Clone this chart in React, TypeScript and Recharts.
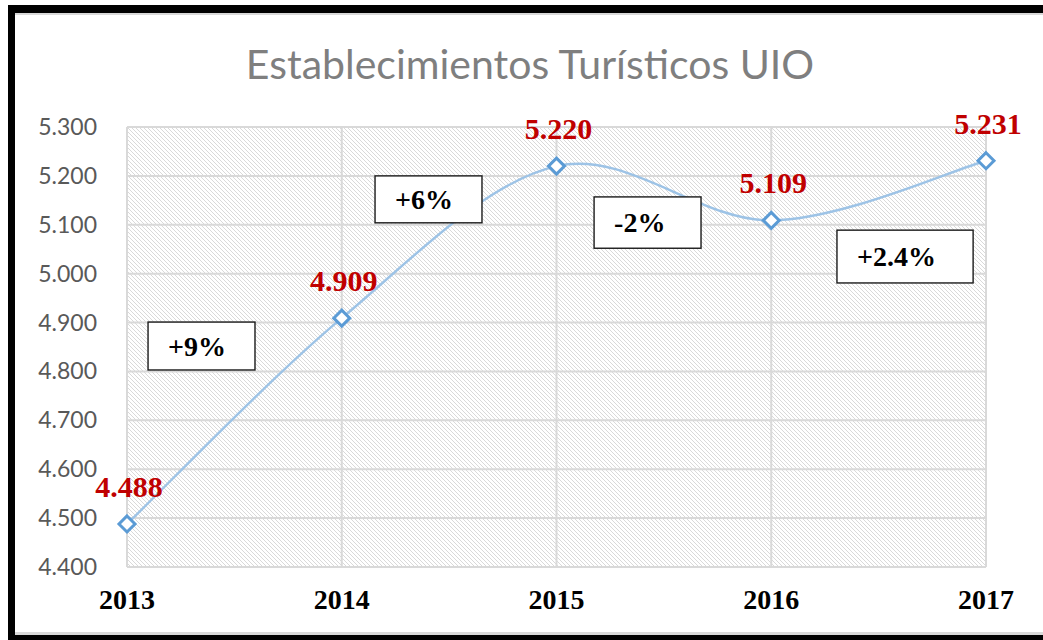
import React from 'react';
import { LineChart, Line, XAxis, YAxis, CartesianGrid, ReferenceArea, LabelList } from 'recharts';

const years = [2013, 2014, 2015, 2016, 2017];
const establishments = [4488, 4909, 5220, 5109, 5231];
const yTicks = [4400, 4500, 4600, 4700, 4800, 4900, 5000, 5100, 5200, 5300];
const changeLabels = ['+9%', '+6%', '-2%', '+2.4%'];

// where the growth boxes sit, in axis units
const boxes = [
  { x1: 2013.098, x2: 2013.596, y1: 4803, y2: 4901 },
  { x1: 2014.155, x2: 2014.653, y1: 5104, y2: 5200 },
  { x1: 2015.175, x2: 2015.673, y1: 5052, y2: 5157 },
  { x1: 2016.306, x2: 2016.94, y1: 4981, y2: 5089 },
];

const data = years.map((year, i) => ({ year, value: establishments[i] }));

const fmt = (v: number) => (v / 1000).toFixed(3);

// Excel style smoothed line (bezier with 1/6 neighbour tangents)
const excelCurve = (context: any) => {
  let pts: number[][] = [];
  return {
    areaStart() {},
    areaEnd() {},
    lineStart() {
      pts = [];
    },
    point(x: number, y: number) {
      pts.push([+x, +y]);
    },
    lineEnd() {
      if (!pts.length) return;
      context.moveTo(pts[0][0], pts[0][1]);
      for (let i = 0; i < pts.length - 1; i++) {
        const p0 = pts[i - 1] || pts[i];
        const p1 = pts[i];
        const p2 = pts[i + 1];
        const p3 = pts[i + 2] || p2;
        context.bezierCurveTo(
          p1[0] + (p2[0] - p0[0]) / 6,
          p1[1] + (p2[1] - p0[1]) / 6,
          p2[0] - (p3[0] - p1[0]) / 6,
          p2[1] - (p3[1] - p1[1]) / 6,
          p2[0],
          p2[1]
        );
      }
    },
  };
};

const Diamond = (props: any) => {
  const { cx, cy } = props;
  if (cx == null || cy == null) return null;
  const r = 8;
  return (
    <path
      d={`M${cx},${cy - r}L${cx + r},${cy}L${cx},${cy + r}L${cx - r},${cy}Z`}
      fill="#fff"
      stroke="#5b9bd5"
      strokeWidth={3}
    />
  );
};

const ValueLabel = (props: any) => {
  const { x, y, value } = props;
  return (
    <text x={x + 2} y={y - 27} textAnchor="middle" fill="#c00000" fontFamily="'Liberation Serif', serif" fontWeight="bold" fontSize={30}>
      {fmt(value)}
    </text>
  );
};

const YTick = (props: any) => {
  const { x, y, payload } = props;
  return (
    <text x={x} y={y} dy="0.35em" textAnchor="end" fill="#595959" fontFamily="Lato, sans-serif" fontSize={23}>
      {fmt(payload.value)}
    </text>
  );
};

const XTick = (props: any) => {
  const { x, y, payload } = props;
  return (
    <text x={x} y={y + 42} textAnchor="middle" fill="#000" fontFamily="'Liberation Serif', serif" fontWeight="bold" fontSize={28}>
      {payload.value}
    </text>
  );
};

const makeBox = (text: string) => (props: any) => {
  const { x, y, width, height } = props;
  return (
    <g>
      <rect x={x} y={y} width={width} height={height} fill="#fff" stroke="#1a1a1a" strokeWidth={1.4} />
      <text x={x + 20} y={y + height / 2} dy="0.35em" fill="#000" fontFamily="'Liberation Serif', serif" fontWeight="bold" fontSize={28}>
        {text}
      </text>
    </g>
  );
};

export default function App() {
  return (
    <div style={{ position: 'fixed', left: 0, top: 0, width: 1043, height: 640, background: '#fff', overflow: 'hidden' }}>
      <svg width={1043} height={640} style={{ position: 'absolute', left: 0, top: 0 }}>
        <rect x={8} y={5} width={1035} height={8} fill="#000" />
        <rect x={8} y={5} width={7} height={635} fill="#000" />
        <rect x={8} y={635} width={1035} height={5} fill="#000" />
        <rect x={15} y={13} width={1028} height={2} fill="#d9d9d9" />
        <rect x={15} y={632} width={1028} height={3} fill="#d9d9d9" />
        <text x={530} y={79} textAnchor="middle" fill="#7f7f7f" fontFamily="Lato, sans-serif" fontSize={41}>
          Establecimientos Turísticos UIO
        </text>
      </svg>
      <div style={{ position: 'absolute', left: 0, top: 0 }}>
        <LineChart width={1043} height={640} data={data} margin={{ top: 127, right: 57, bottom: 23, left: 27 }}>
          <defs>
            <pattern id="hatch" patternUnits="userSpaceOnUse" width={4} height={4}>
              <rect width={4} height={4} fill="#fff" />
              <path d="M-1,-1L5,5M-1,3L1,5M3,-1L5,1" stroke="#d2d2d2" strokeWidth={0.85} />
            </pattern>
          </defs>
          <CartesianGrid stroke="#d9d9d9" strokeWidth={2} fill="url(#hatch)" fillOpacity={1} />
          <XAxis
            dataKey="year"
            type="number"
            domain={[2013, 2017]}
            ticks={years}
            axisLine={false}
            tickLine={false}
            tickSize={0}
            tickMargin={0}
            height={50}
            tick={<XTick />}
            interval={0}
          />
          <YAxis
            domain={[4400, 5300]}
            ticks={yTicks}
            axisLine={false}
            tickLine={false}
            tickSize={0}
            tickMargin={30}
            width={100}
            tick={<YTick />}
            interval={0}
          />
          <Line
            dataKey="value"
            type={excelCurve as any}
            stroke="#9dc3e6"
            strokeWidth={2.4}
            dot={<Diamond />}
            activeDot={false}
            isAnimationActive={false}
          >
            <LabelList dataKey="value" content={<ValueLabel />} />
          </Line>
          {boxes.map((b, i) => (
            <ReferenceArea
              key={i}
              x1={b.x1}
              x2={b.x2}
              y1={b.y1}
              y2={b.y2}
              shape={makeBox(changeLabels[i])}
              zIndex={1500}
            />
          ))}
        </LineChart>
      </div>
    </div>
  );
}
